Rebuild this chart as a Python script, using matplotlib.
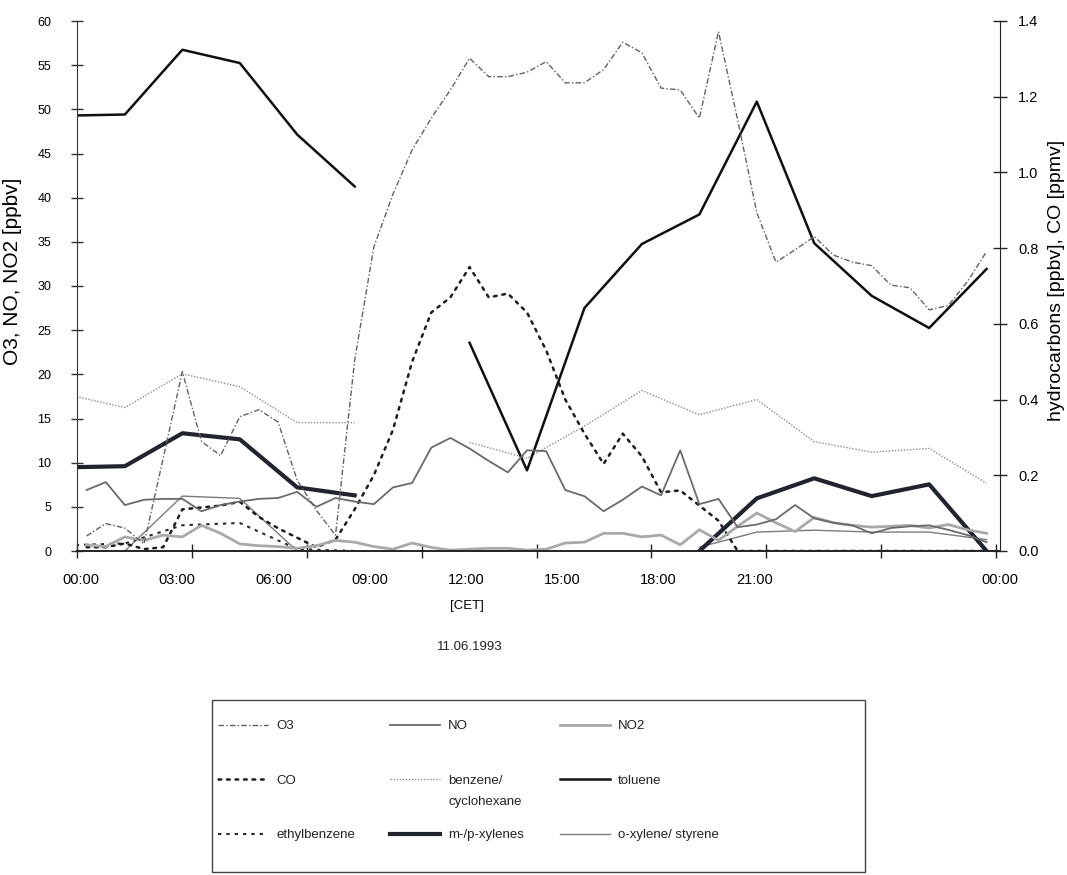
import numpy as np
import matplotlib
matplotlib.use("Agg")
import matplotlib.pyplot as plt
from matplotlib.lines import Line2D
from matplotlib.patches import Rectangle

plt.rcParams['font.family'] = ['Liberation Sans', 'DejaVu Sans']
plt.rcParams['text.color'] = '#222222'

nan = np.nan

# ---- half-hourly trace gases, sampled at hh:15 / hh:45 ----
half_hour = np.arange(48) * 0.5 + 0.25
o3 = [1.7, 3.1, 2.6, 0.8, 10.5, 20.3, 12.4, 10.8, 15.2, 16.0, 14.6, 8.0,
      4.6, 1.8, 21.6, 34.4, 40.4, 45.4, 49.0, 52.2, 55.8, 53.7, 53.7, 54.2,
      55.4, 53.0, 53.0, 54.5, 57.6, 56.4, 52.4, 52.2, 49.0, 58.8, 48.8, 38.3,
      32.7, 34.1, 35.6, 33.5, 32.7, 32.3, 30.1, 29.8, 27.3, 27.8, 30.5, 33.9]
no = [6.9, 7.8, 5.2, 5.8, 5.9, 5.9, 4.5, 5.2, 5.6, 5.9, 6.0, 6.7,
      5.0, 6.0, 5.6, 5.3, 7.2, 7.7, 11.7, 12.8, 11.6, 10.2, 8.9, 11.4,
      11.3, 6.9, 6.2, 4.5, 5.8, 7.3, 6.3, 11.4, 5.3, 5.9, 2.7, 3.0,
      3.6, 5.2, 3.7, 3.2, 2.9, 2.0, 2.6, 2.8, 2.9, 2.4, 1.8, 1.0]
no2 = [0.7, 0.5, 1.6, 1.2, 1.8, 1.6, 2.9, 2.0, 0.8, 0.6, 0.5, 0.3,
       0.6, 1.2, 1.0, 0.5, 0.2, 0.9, 0.4, 0.1, 0.2, 0.3, 0.3, 0.1,
       0.2, 0.9, 1.0, 2.0, 2.0, 1.6, 1.8, 0.7, 2.4, 1.2, 2.8, 4.3,
       3.2, 2.2, 3.8, 3.2, 2.9, 2.7, 2.8, 2.9, 2.6, 3.0, 2.4, 2.0]
co = [0.01, 0.01, 0.02, 0.005, 0.01, 0.11, 0.115, 0.12, 0.13, 0.09, 0.06, 0.035,
      0.01, 0.03, 0.11, 0.20, 0.32, 0.50, 0.63, 0.67, 0.75, 0.67, 0.68, 0.63,
      0.53, 0.40, 0.31, 0.23, 0.31, 0.25, 0.155, 0.16, 0.12, 0.08, 0.0, 0.0,
      0.0, 0.0, 0.0, 0.0, 0.0, 0.0, 0.0, 0.0, 0.0, 0.0, 0.0, 0.0]

# ---- hydrocarbons, 1.5-hour samples ----
hc_hours = np.arange(17) * 1.5 - 0.25
benzene = [0.413, 0.379, 0.468, 0.434, 0.339, 0.339, nan, 0.287, 0.245,
           0.33, 0.424, 0.36, 0.40, 0.289, 0.261, 0.271, 0.179]
toluene = [1.15, 1.153, 1.324, 1.289, 1.10, 0.963, nan, 0.55, 0.213,
           0.642, 0.811, 0.889, 1.187, 0.813, 0.674, 0.589, 0.745]
ethylbenzene = [0.015, 0.02, 0.068, 0.074, 0.005, 0.0, nan, nan, nan,
                nan, nan, nan, 0.0, 0.0, 0.0, 0.0, 0.0]
mp_xylenes = [0.221, 0.224, 0.311, 0.295, 0.168, 0.147, nan, nan, nan,
              nan, nan, 0.0, 0.139, 0.192, 0.145, 0.176, 0.0]
o_xylene = [nan, 0.0, 0.145, 0.139, 0.0, nan, nan, nan, nan,
            nan, nan, 0.01, 0.05, 0.055, 0.05, 0.05, 0.03]

hour_labels = ['00:00', '03:00', '06:00', '09:00', '12:00', '15:00',
               '18:00', '21:00', '00:00']

# ---- figure ----
W, H = 1067, 875
fig = plt.figure(figsize=(W / 100, H / 100), dpi=100)
ax = fig.add_axes([77 / W, 1 - 551 / H, 923 / W, 530 / H])
ax2 = ax.twinx()

styles = {
    'O3': dict(color='#626262', lw=1.0, dashes=[4, 1.6, 1, 1.6]),
    'NO': dict(color='#6a6a6a', lw=1.3, ls='-'),
    'NO2': dict(color='#a9a9a9', lw=2.0, ls='-'),
    'CO': dict(color='#1e1e1e', lw=1.8, dashes=[1.1, 2.3], dash_capstyle='round'),
    'benzene/': dict(color='#8c8c8c', lw=1.0, dashes=[1, 1.2]),
    'toluene': dict(color='#101010', lw=1.8, ls='-'),
    'ethylbenzene': dict(color='#2a2a2a', lw=1.5, dashes=[1.6, 2.4]),
    'm-/p-xylenes': dict(color='#20242e', lw=3.0, ls='-'),
    'o-xylene/ styrene': dict(color='#7c7c7c', lw=1.0, ls='-'),
}

# right axis: hydrocarbons [ppbv] and CO [ppmv]
ax2.plot(hc_hours, benzene, **styles['benzene/'])
ax2.plot(hc_hours, o_xylene, **styles['o-xylene/ styrene'])
ax2.plot(hc_hours, ethylbenzene, **styles['ethylbenzene'])
ax2.plot(half_hour, co, **styles['CO'])
ax2.plot(hc_hours, mp_xylenes, **styles['m-/p-xylenes'])
ax2.plot(hc_hours, toluene, **styles['toluene'])
# left axis: O3, NO, NO2 [ppbv]
ax.plot(half_hour, no2, **styles['NO2'])
ax.plot(half_hour, no, **styles['NO'])
ax.plot(half_hour, o3, **styles['O3'])
ax.set_zorder(ax2.get_zorder() + 1)
ax.patch.set_visible(False)

ax.set_xlim(0, 24)
ax.set_ylim(0, 60)
ax2.set_ylim(0, 1.4)

for a in (ax, ax2):
    a.spines['top'].set_visible(False)
ax.spines['right'].set_visible(False)
ax2.spines['left'].set_visible(False)
ax2.spines['bottom'].set_visible(False)
ax.spines['left'].set_color('#333333')
ax.spines['bottom'].set_color('#222222')
ax.spines['bottom'].set_linewidth(1.4)
ax2.spines['right'].set_color('#222222')

ax.set_yticks(np.arange(0, 61, 5))
ax.tick_params(axis='y', direction='inout', length=9, width=1.0,
               color='#333333', labelsize=9, pad=14)
ax2.set_yticks(np.arange(0, 1.41, 0.2))
ax2.set_yticklabels([f'{v:.1f}' for v in np.arange(0, 1.41, 0.2)])
ax2.tick_params(axis='y', direction='inout', length=10, width=1.0,
                color='#222222', labelsize=10.5, pad=8)

# tick marks every 3 h, time labels as drawn on the hand-made axis
ax.set_xticks(np.arange(0, 24.1, 3))
ax.set_xticklabels([])
ax.tick_params(axis='x', which='major', direction='inout', length=10,
               width=1.0, color='#222222')
label_hours = list(np.linspace(0.1, 17.7, 8)) + [24.1]
ax.set_xticks(label_hours, minor=True)
ax.set_xticklabels(hour_labels, minor=True)
ax.tick_params(axis='x', which='minor', length=0, labelsize=10.5, pad=16)

ax.set_xlabel('[CET]', fontsize=9.5)
ax.xaxis.set_label_coords((467 - 77) / 923, (551 - 600) / 530)
ax.text((470 - 77) / 923, (551 - 647) / 530, '11.06.1993', transform=ax.transAxes,
        ha='center', va='center', fontsize=9.5)

ax.set_ylabel('O3, NO, NO2 [ppbv]', fontsize=15, va='center')
ax.yaxis.set_label_coords((13 - 77) / 923, (551 - 271) / 530)
ax2.set_ylabel('hydrocarbons [ppbv], CO [ppmv]', fontsize=14, rotation=90,
               va='center')
ax2.yaxis.set_label_coords((1056 - 77) / 923, (551 - 280) / 530)

# ---- legend: three columns inside a plain box ----
fig.patches.append(Rectangle((212 / W, 1 - 872 / H), 653 / W, 172 / H,
                             transform=fig.transFigure, fill=False,
                             edgecolor='#444444', lw=1.0))
columns = [['O3', 'CO', 'ethylbenzene'],
           ['NO', 'benzene/', 'm-/p-xylenes'],
           ['NO2', 'toluene', 'o-xylene/ styrene']]
col_left = [218, 390, 560]
legends = []
for names, x0 in zip(columns, col_left):
    handles = [Line2D([], [], **styles[n]) for n in names]
    leg = fig.legend(handles, names, loc='upper left',
                     bbox_to_anchor=(x0 / W, 1 - 720 / H), frameon=False,
                     fontsize=9.5, handlelength=3.8, handletextpad=0.6,
                     labelspacing=3.2, borderpad=0, borderaxespad=0)
    legends.append(leg)

fig.canvas.draw()
renderer = fig.canvas.get_renderer()
bt = legends[1].get_texts()[1].get_window_extent(renderer)
fig.text(bt.x0 / W, (bt.y0 - 9) / H, 'cyclohexane', fontsize=9.5,
         ha='left', va='top')

fig.savefig('out.png', dpi=100, facecolor='white')
